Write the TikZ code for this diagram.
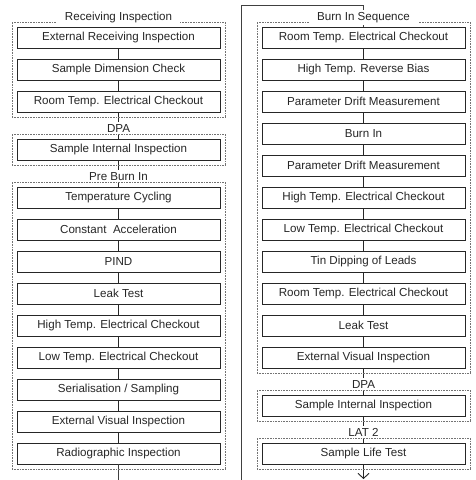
\documentclass[tikz,border=0pt]{standalone}
\usepackage{fontspec}
\setmainfont{Liberation Sans}
\usetikzlibrary{fit, arrows.meta}

\begin{document}
\begin{tikzpicture}[x=1pt, y=-1pt,
        stage/.style={draw=black!85, line width=0.9pt, minimum width=203pt, minimum height=21pt,
            inner sep=0pt, font=\fontsize{11.6}{13}\selectfont, text=black!85},
        group/.style={draw=black!55, line width=0.8pt, dash pattern=on 0.8pt off 0.8pt, inner sep=4.5pt},
        grouptitle/.style={fill=white, anchor=base, yshift=1.5pt, inner xsep=8pt, inner ysep=2pt,
            font=\fontsize{11.6}{13}\selectfont, text=black!85},
        link/.style={draw=black!85, line width=0.9pt}]
    \useasboundingbox (0, 0) rectangle (476, 480);
    \clip (0, 0) rectangle (476, 480);

    % left column
    \node[stage] (r1) at (118.5, 37.5) {External Receiving Inspection};
    \node[stage] (r2) at (118.5, 69.5) {Sample Dimension Check};
    \node[stage] (r3) at (118.5, 101.5) {Room Temp. Electrical Checkout};
    \node[stage] (d1) at (118.5, 149.5) {Sample Internal Inspection};
    \node[stage] (p1) at (118.5, 197.5) {Temperature Cycling};
    \node[stage] (p2) at (118.5, 229.5) {Constant~ Acceleration};
    \node[stage] (p3) at (118.5, 261.5) {PIND};
    \node[stage] (p4) at (118.5, 293.5) {Leak Test};
    \node[stage] (p5) at (118.5, 325.5) {High Temp. Electrical Checkout};
    \node[stage] (p6) at (118.5, 357.5) {Low Temp. Electrical Checkout};
    \node[stage] (p7) at (118.5, 389.5) {Serialisation / Sampling};
    \node[stage] (p8) at (118.5, 421.5) {External Visual Inspection};
    \node[stage] (p9) at (118.5, 453.5) {Radiographic Inspection};

    % right column
    \node[stage] (b1) at (363.5, 37.5) {Room Temp. Electrical Checkout};
    \node[stage] (b2) at (363.5, 69.5) {High Temp. Reverse Bias};
    \node[stage] (b3) at (363.5, 101.5) {Parameter Drift Measurement};
    \node[stage] (b4) at (363.5, 133.5) {Burn In};
    \node[stage] (b5) at (363.5, 165.5) {Parameter Drift Measurement};
    \node[stage] (b6) at (363.5, 197.5) {High Temp. Electrical Checkout};
    \node[stage] (b7) at (363.5, 229.5) {Low Temp. Electrical Checkout};
    \node[stage] (b8) at (363.5, 261.5) {Tin Dipping of Leads};
    \node[stage] (b9) at (363.5, 293.5) {Room Temp. Electrical Checkout};
    \node[stage] (b10) at (363.5, 325.5) {Leak Test};
    \node[stage] (b11) at (363.5, 357.5) {External Visual Inspection};
    \node[stage] (e1) at (363.5, 405.5) {Sample Internal Inspection};
    \node[stage] (l1) at (363.5, 453.5) {Sample Life Test};

    \coordinate (back) at (241, 495);
    \coordinate (top) at (241, 5);
    \coordinate (done) at (363.5, 479);

    \draw[link] (r1) -- (r2) -- (r3) -- (d1) -- (p1) -- (p2) -- (p3) -- (p4)
        -- (p5) -- (p6) -- (p7) -- (p8) -- (p9);
    \draw[link] (b1) -- (b2) -- (b3) -- (b4) -- (b5) -- (b6) -- (b7) -- (b8)
        -- (b9) -- (b10) -- (b11) -- (e1) -- (l1);
    \draw[link, draw=black!75] (p9) |- (back) -- (top) -| (b1);
    \draw[link, -{Straight Barb[length=5pt, width=11pt]}] (l1) -- (done);

    % groups
    \node[group, fit=(r1)(r3)] (recv) {};
    \node[group, fit=(d1)] (dpaA) {};
    \node[group, fit=(p1)(p9)] (pre) {};
    \node[group, fit=(b1)(b11)] (burn) {};
    \node[group, fit=(e1)] (dpaB) {};
    \node[group, fit=(l1)] (lat) {};

    \node[grouptitle] at (recv.north) {Receiving Inspection};
    \node[grouptitle] at (dpaA.north) {DPA};
    \node[grouptitle] at (pre.north) {Pre Burn In};
    \node[grouptitle] at (burn.north) {Burn In Sequence};
    \node[grouptitle] at (dpaB.north) {DPA};
    \node[grouptitle] at (lat.north) {LAT 2};
\end{tikzpicture}
\end{document}
